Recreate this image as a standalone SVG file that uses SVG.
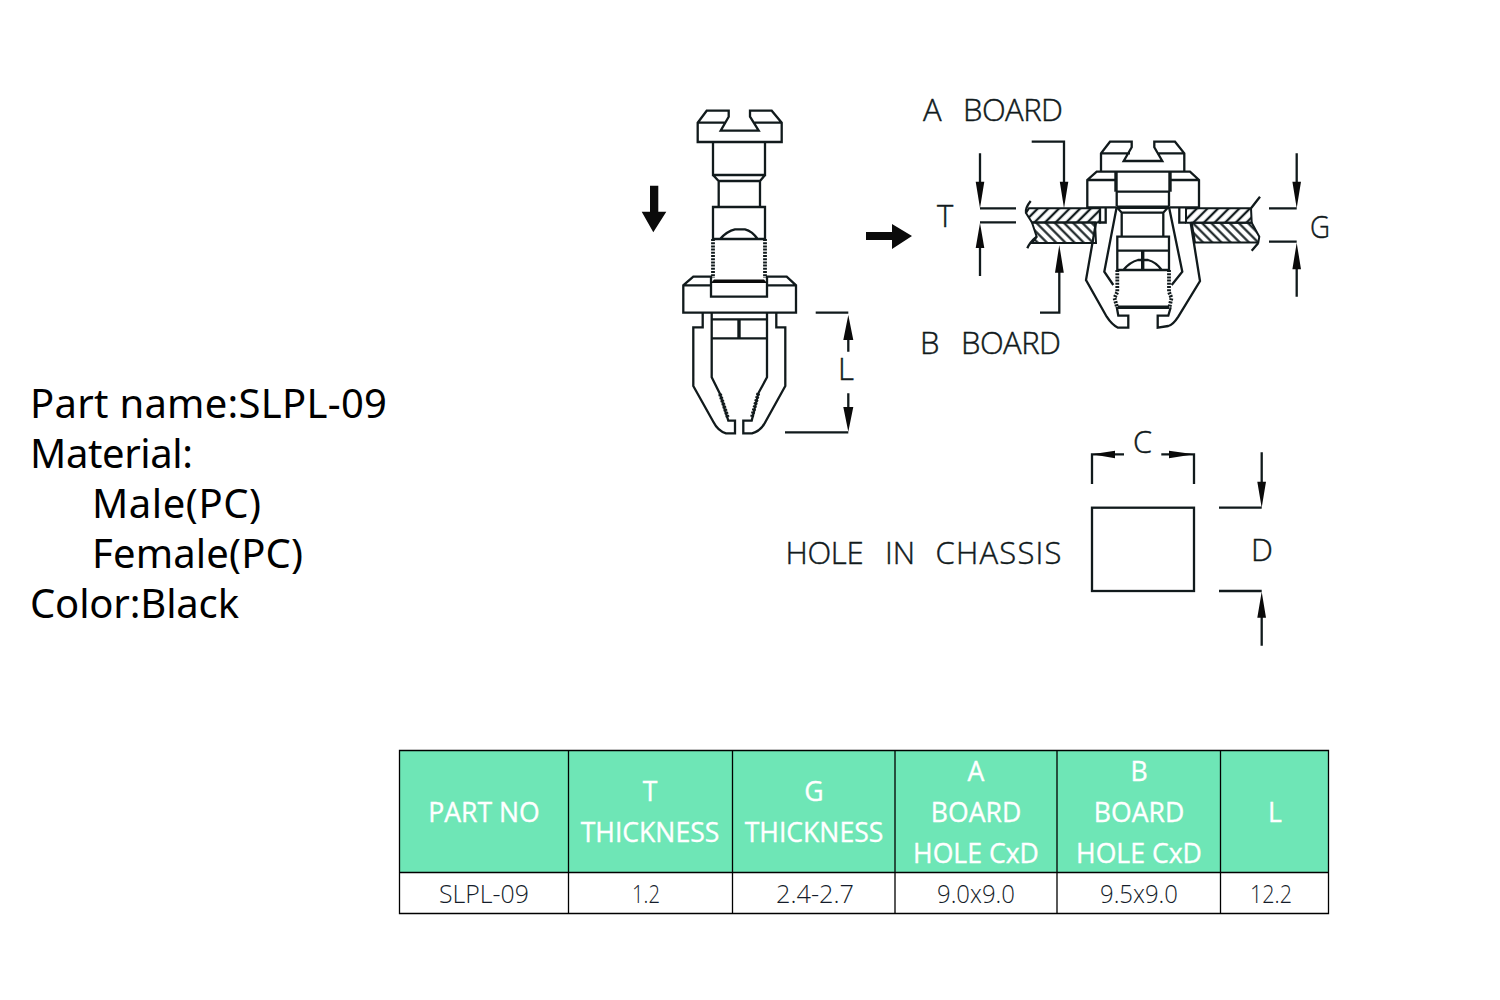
<svg xmlns="http://www.w3.org/2000/svg" width="1500" height="1000" viewBox="0 0 1500 1000">
<style>
.l{fill:none;stroke:#111a1c;stroke-width:2.3;stroke-linejoin:miter}
.k{fill:none;stroke:#111a1c;stroke-width:3.4}
.t{fill:none;stroke:#111a1c;stroke-width:3.8;stroke-dasharray:2 1.2}
.a{fill:#0a0a0a;stroke:none}
.d{font-family:"Open Sans","Noto Sans",sans-serif;font-weight:300;font-size:31px;fill:#111a1c;stroke:#111a1c;stroke-width:.45}
.p{font-family:"Noto Sans","Open Sans",sans-serif;font-size:40px;fill:#000}
.h{font-family:"Open Sans","Noto Sans",sans-serif;font-size:26.6px;fill:#fff;stroke:#fff;stroke-width:.35;text-anchor:middle}
.c{font-family:"Open Sans","Noto Sans",sans-serif;font-weight:300;font-size:26px;fill:#141c2a;text-anchor:middle}
.g{fill:none;stroke:#000;stroke-width:1.3}
</style>
<defs>
<pattern id="ha" width="7.500" height="7.500" patternUnits="userSpaceOnUse" patternTransform="rotate(45)"><line x1="3.750" y1="0" x2="3.750" y2="7.500" stroke="#111a1c" stroke-width="2.300"/></pattern>
<pattern id="hb" width="6.500" height="6.500" patternUnits="userSpaceOnUse" patternTransform="rotate(-45)"><line x1="3.250" y1="0" x2="3.250" y2="6.500" stroke="#111a1c" stroke-width="2.100"/></pattern>
</defs>
<rect width="1500" height="1000" fill="#fff"/>

<g id="part-info">
<text class="p" x="30" y="418" textLength="357">Part name:SLPL-09</text>
<text class="p" x="30" y="468" textLength="163">Material:</text>
<text class="p" x="92" y="518" textLength="169">Male(PC)</text>
<text class="p" x="92" y="568" textLength="211">Female(PC)</text>
<text class="p" x="30" y="618" textLength="209">Color:Black</text>
</g>

<g id="part-separate">
<path class="l" d="M697.700 122.700L706.700 110.700H728.700V116.700L720.700 130.700H758.700L750 116.700V110.700H771.700L781.700 122.700V142H697.700ZM697.700 122.700H725M754 122.700H781.700"/>
<path class="l" d="M713 142V175H765V142M713 175L718.700 181H760L765 175M718.700 181V207M760 181V207"/>
<path class="l" d="M713 207H765V239H713ZM720 239Q727 231 735 229.300H745Q752 231 757.700 239"/>
<path class="t" d="M713 239V278M765 239V278"/>
<path class="l" d="M711 276.700H693.300L683.300 285.300V312.700H796V285.300L786.700 276.700H767V296.700H711ZM683.300 285.300H711M767 285.300H796"/>
<path class="a" d="M711 283L714 279.500H764L767 283Z"/>
<path class="l" d="M702.700 312.700V327.300H693.300V386L713.300 421.700Q718 431 726 433.300H735V420.700H728.300L720 394L711.700 377.300V312.700"/>
<path class="l" d="M776.300 312.700V327.300H785.300V386L765.500 421.700Q761 431 752 433.300H743.300V420.700H751.700L758.300 393.300L767 377.300V312.700"/>
<path class="t" d="M720 394L728 418M758.300 393.300L751.700 418"/>
<path class="l" d="M711.700 319.300H767M711.700 338.300H767"/>
<path class="k" d="M739 319.300V338.300"/>
</g>

<g id="part-assembled">
<path id="board-a-left" d="M1029 208.300H1100V222.500H1032L1026 213Z" fill="url(#ha)" stroke="#111a1c" stroke-width="2"/>
<path id="board-b-left" d="M1032 222.500H1095L1096 243H1032L1036.700 236.700Z" fill="url(#hb)" stroke="#111a1c" stroke-width="2"/>
<path id="board-a-right" d="M1186 208.300H1251L1251.700 222.700H1186Z" fill="url(#ha)" stroke="#111a1c" stroke-width="2"/>
<path id="board-b-right" d="M1191.700 222.700H1251.700L1259.300 236.700L1258.300 242.500H1195Z" fill="url(#hb)" stroke="#111a1c" stroke-width="2"/>
<path class="l" d="M1030.700 201Q1025 208 1026 213M1036.700 236.700Q1030 242 1027.300 248.300M1260 196.700L1251 208.300M1258.300 243L1251.700 250.700"/>
<path class="l" d="M1100 208V222.500H1105.700V208M1179.300 208V222.700H1186"/>
<path class="l" d="M1096 222.500L1086 280L1106.700 316.700Q1112 325 1118 327.700H1128.300V315.700H1118.300L1116.700 306.700"/>
<path class="l" d="M1190.700 223L1200 281L1178.300 316.700Q1173 325 1168.300 326L1157.700 327.700V315.700H1168.300L1170.700 307.300"/>
<path class="l" d="M1116.700 207L1104.300 271.700L1113.300 285M1169 207L1182.300 271.700L1171.700 285"/>
<path class="l" d="M1101 171.700V153.300L1110 141.700H1131.700V147.300L1123.700 161H1162.300L1154.300 147.300V141.700H1175L1184.300 153.300V171.700M1101 153.300H1130M1157 153.300H1184.300"/>
<path class="l" d="M1087.300 207.300V180L1096.700 171.700H1190L1199 180V207.300H1087.300ZM1087.300 180H1116M1170 180H1199"/>
<path class="k" d="M1116 172V191.700M1170 172V191.700M1117 207.300H1169"/>
<path class="l" d="M1116 191.700H1170M1116.700 191.700V206M1169 191.700V206"/>
<path class="l" d="M1116.700 207L1121.700 212.700H1163.300L1168.300 207M1121.700 212.700V236.700M1163.300 212.700V236.700"/>
<path class="l" d="M1117.300 236.700H1169V270H1117.300ZM1117.300 250.700H1169M1123.300 270Q1130 262 1138 260H1148Q1156 262 1161.700 270"/>
<path class="k" d="M1142.700 250.700V270M1118 307.300H1169"/>
<path class="t" d="M1117.300 270V292L1114.500 298L1117 307M1169 270V292L1171.500 298L1169.500 307"/>
</g>

<g id="hole">
<rect class="l" x="1092" y="507.700" width="102" height="83.300"/>
</g>

<g id="connectors">
<path class="l" d="M815.700 312.700H848.300M848.300 340V351.700M848.300 393.300V410M785 432.300H848.300"/>
<path class="a" d="M848.300 315L853.300 340H843.300ZM848.300 431.700L843.300 407H853.300Z"/>
<path class="a" d="M650 185.700H658.300V211.700H666.300L653.300 232.300L641.700 211.700H650Z"/>
<path class="a" d="M866 232H892V224L912 236L892 249V240H866Z"/>
<path class="l" d="M980 153.300V185M980 208.300H1016M980 222.300H1016M980 245V276"/>
<path class="a" d="M980 208.300L975.700 181.700H984.300ZM980 223L984.300 248H975.700Z"/>
<path class="l" d="M1031.700 141.700H1064V185M1040 312.700H1059.300V270"/>
<path class="a" d="M1064 208.300L1059.800 181.700H1068.300ZM1059.300 245L1063.800 272.700H1055Z"/>
<path class="l" d="M1296.700 153.300V185M1269 208.300H1296.700M1269 241.700H1296.700M1296.700 265V296.700"/>
<path class="a" d="M1296.700 208.300L1292.400 181.700H1301ZM1296.700 242.700L1301 269.300H1292.400Z"/>
<path class="l" d="M1092 484V454.300H1124M1161.300 454.300H1194V484"/>
<path class="a" d="M1092 454.300L1115 450.700V458.300ZM1194 454.300L1169 450.700V458.300Z"/>
<path class="l" d="M1261.700 452.300V485M1219 507.700H1261.700M1219 591H1261.700M1261.700 615V645.700"/>
<path class="a" d="M1261.700 507.700L1257.300 481.700H1266ZM1261.700 591.700L1266 617.700H1257.300Z"/>
</g>

<g id="dimension-labels">
<text class="d" x="923" y="121">A</text>
<text class="d" x="963" y="121" textLength="100">BOARD</text>
<text class="d" x="920" y="354">B</text>
<text class="d" x="961" y="354" textLength="100">BOARD</text>
<text class="d" x="937" y="227">T</text>
<text class="d" x="1310" y="238" textLength="20" lengthAdjust="spacingAndGlyphs">G</text>
<text class="d" x="838" y="380">L</text>
<text class="d" x="1133" y="453" textLength="19" lengthAdjust="spacingAndGlyphs">C</text>
<text class="d" x="1251" y="561">D</text>
<text class="d" x="785.500" y="564" textLength="78">HOLE</text>
<text class="d" x="885" y="564">IN</text>
<text class="d" x="935.500" y="564" textLength="126">CHASSIS</text>
</g>

<g id="spec-table">
<rect x="399.500" y="750.500" width="929" height="122" fill="#6ee6b6"/>
<path class="g" d="M399.500 750.500H1328.500V913.500H399.500ZM399.500 872.500H1328.500M568.500 750.500V913.500M732.500 750.500V913.500M895 750.500V913.500M1057 750.500V913.500M1220.500 750.500V913.500"/>
<text class="h" x="484" y="822">PART NO</text>
<text class="h" x="650" y="801">T</text>
<text class="h" x="650" y="842">THICKNESS</text>
<text class="h" x="814" y="801">G</text>
<text class="h" x="814" y="842">THICKNESS</text>
<text class="h" x="976" y="781">A</text>
<text class="h" x="976" y="822">BOARD</text>
<text class="h" x="976" y="863">HOLE CxD</text>
<text class="h" x="1139" y="781">B</text>
<text class="h" x="1139" y="822">BOARD</text>
<text class="h" x="1139" y="863">HOLE CxD</text>
<text class="h" x="1275" y="822">L</text>
<text class="c" x="484" y="903" textLength="90" lengthAdjust="spacingAndGlyphs">SLPL-09</text>
<text class="c" x="646" y="903" textLength="28" lengthAdjust="spacingAndGlyphs">1.2</text>
<text class="c" x="815" y="903" textLength="78" lengthAdjust="spacingAndGlyphs">2.4-2.7</text>
<text class="c" x="976" y="903" textLength="78" lengthAdjust="spacingAndGlyphs">9.0x9.0</text>
<text class="c" x="1139" y="903" textLength="78" lengthAdjust="spacingAndGlyphs">9.5x9.0</text>
<text class="c" x="1271" y="903" textLength="42" lengthAdjust="spacingAndGlyphs">12.2</text>
</g>
</svg>
